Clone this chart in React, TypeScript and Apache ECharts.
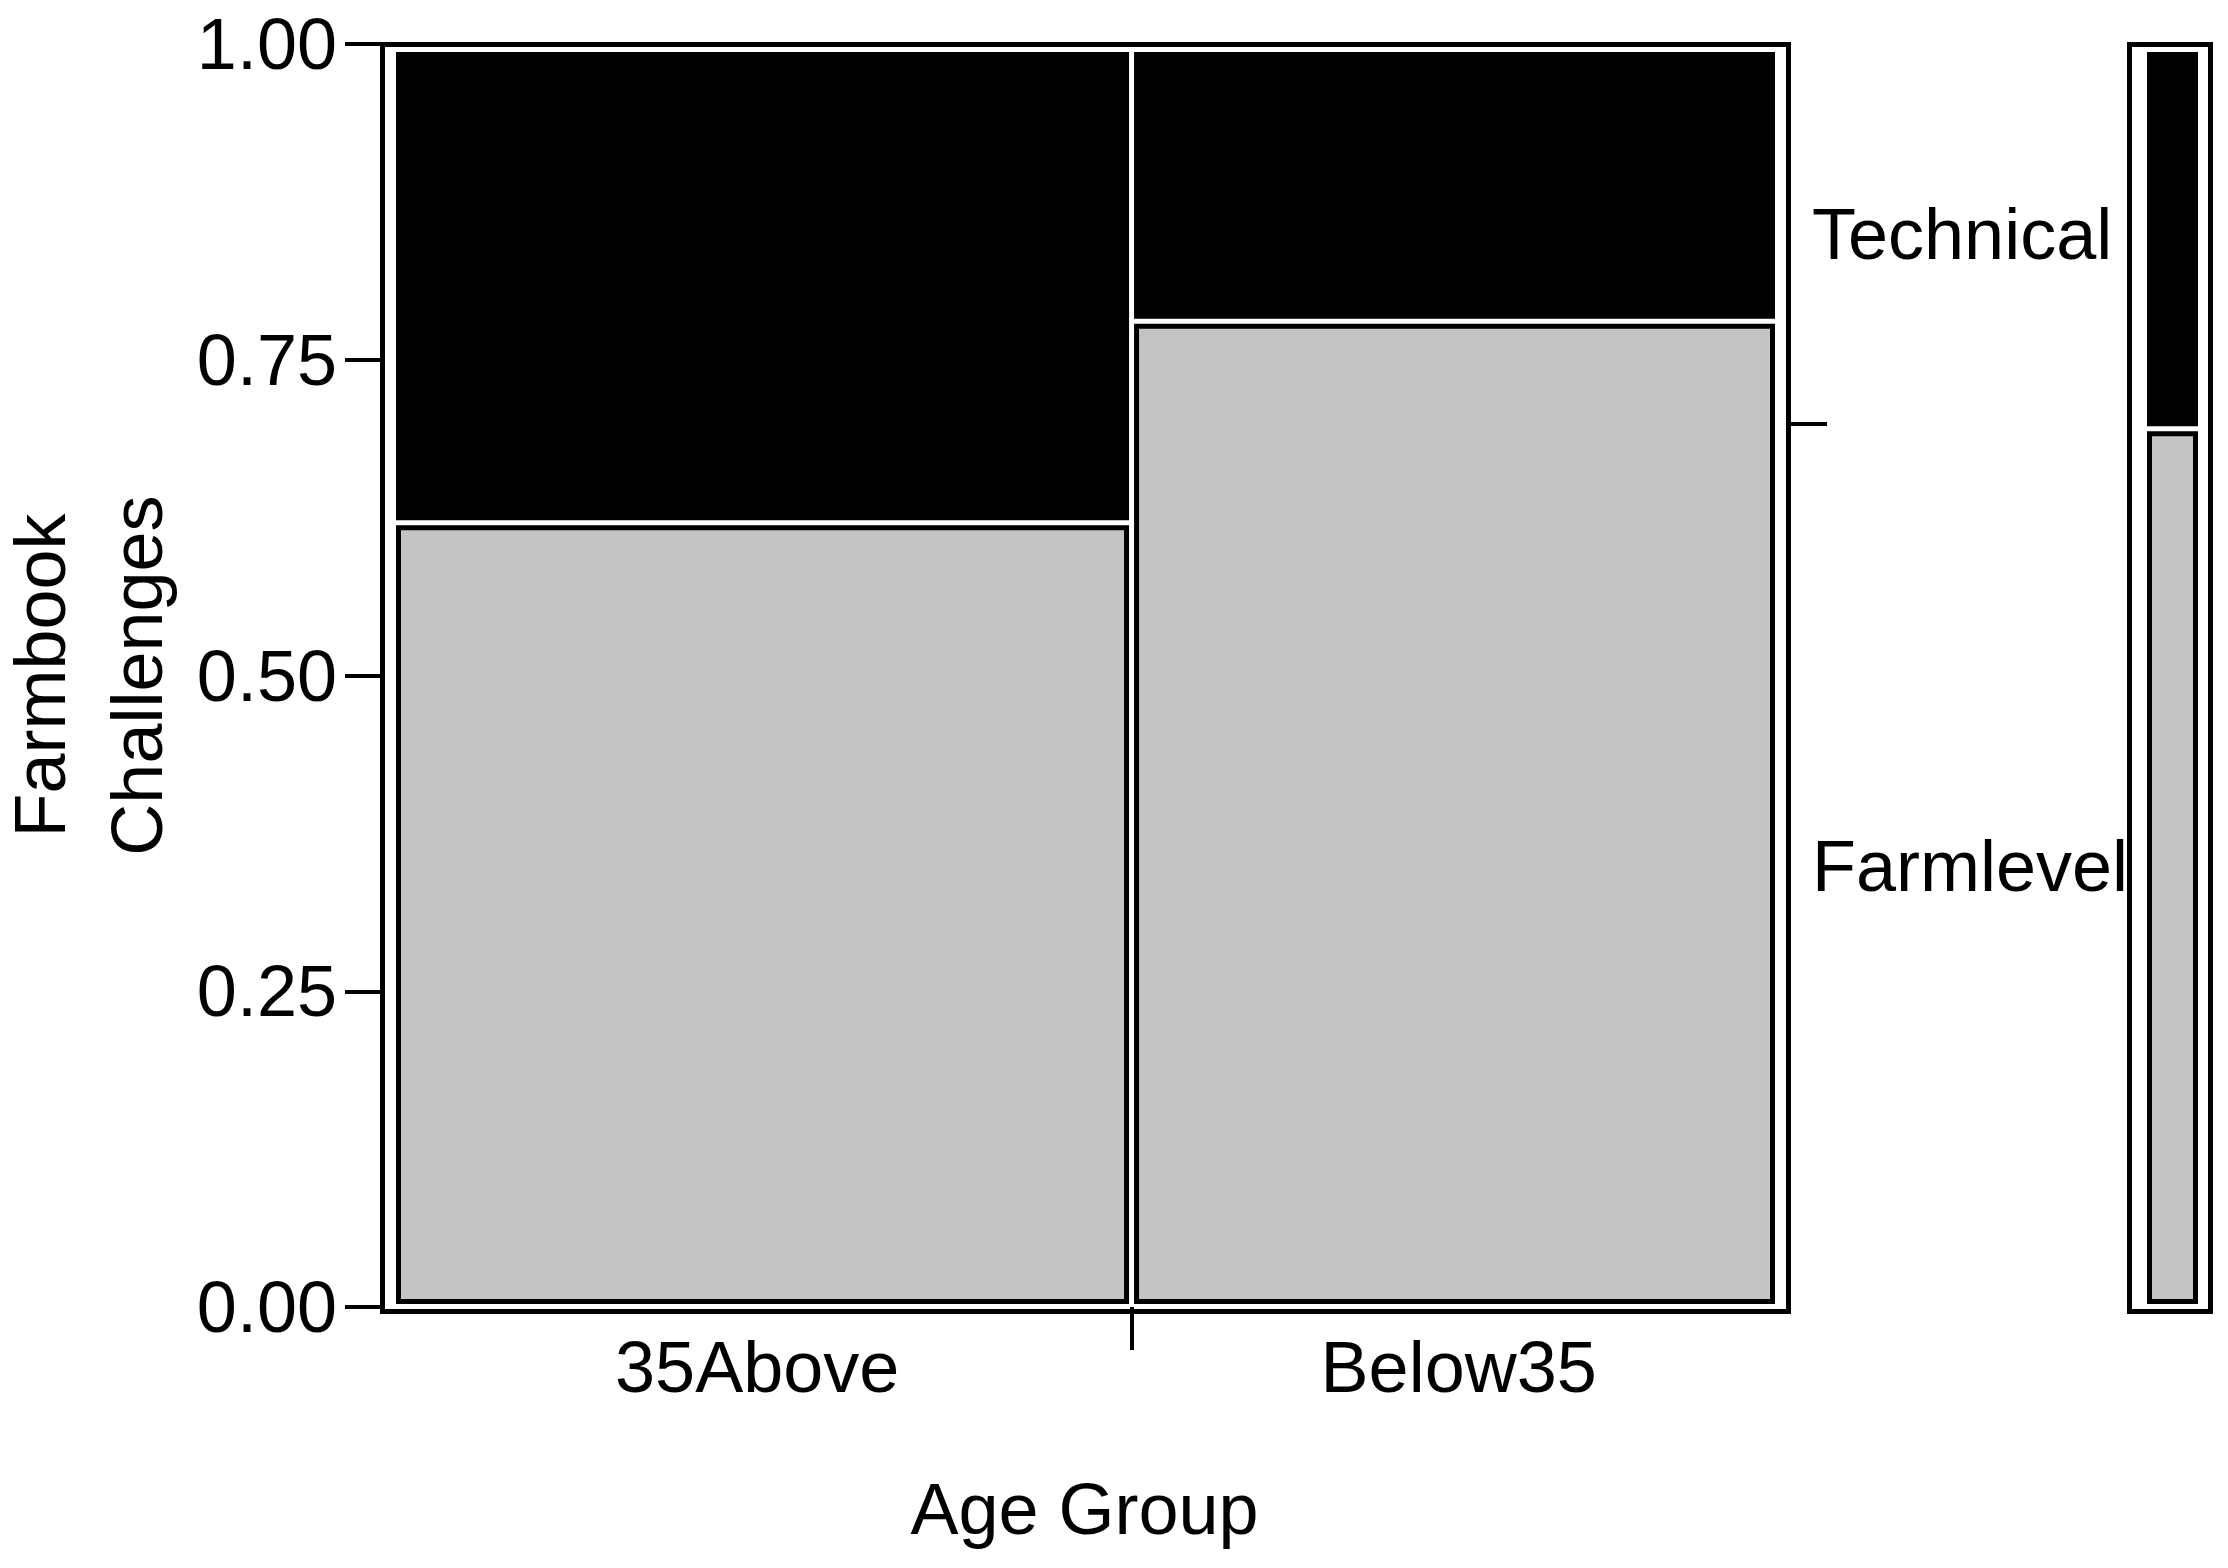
import React, { useEffect, useRef } from 'react';
import * as echarts from 'echarts';

// ---- data ----
const ageGroups = ['35Above', 'Below35'];
const ageShares = [0.5334, 0.4666]; // column widths (share of respondents)
const challengeLevels = ['Farmlevel', 'Technical'];
const farmlevelShareByAge = [0.624, 0.785]; // share of "Farmlevel" within each age group
const yTickValues = [0, 0.25, 0.5, 0.75, 1];

const FONT = "'Liberation Sans Narrow', 'Arial Narrow', 'Liberation Sans', Arial, sans-serif";

// build mosaic cells: [x0, x1, y0, y1, levelIndex]
const mosaicCells: number[][] = [];
let cum = 0;
ageGroups.forEach((_, i) => {
  const x0 = cum;
  const x1 = cum + ageShares[i];
  const f = farmlevelShareByAge[i];
  mosaicCells.push([x0, x1, 0, f, 0]);
  mosaicCells.push([x0, x1, f, 1, 1]);
  cum = x1;
});
const overallFarmlevel = ageShares.reduce((s, w, i) => s + w * farmlevelShareByAge[i], 0);
const marginalCells = [
  [0, 1, 0, overallFarmlevel, 0],
  [0, 1, overallFarmlevel, 1, 1],
];
const ageMidpoints: number[] = [];
{
  let c = 0;
  ageShares.forEach((w) => {
    ageMidpoints.push(c + w / 2);
    c += w;
  });
}
const levelMidpoints = [overallFarmlevel / 2, (overallFarmlevel + 1) / 2];

const levelColors = ['#c4c4c4', '#000000'];

type Inset = { l: number; r: number; t: number; b: number };

const makeCellRenderer = (inset: Inset) => (params: any, api: any) => {
  const x0v = api.value(0);
  const x1v = api.value(1);
  const y0v = api.value(2);
  const y1v = api.value(3);
  const kind = api.value(4);
  const pBL = api.coord([0, 0]);
  const pTR = api.coord([1, 1]);
  const L = pBL[0] + inset.l;
  const R = pTR[0] - inset.r;
  const T = pTR[1] + inset.t;
  const B = pBL[1] - inset.b;
  const px = (v: number) => L + v * (R - L);
  const py = (v: number) => B - v * (B - T);
  const half = 2.5;
  const xa = px(x0v) + (x0v > 1e-9 ? half : 0);
  const xb = px(x1v) - (x1v < 1 - 1e-9 ? half : 0);
  const ya = py(y1v) + (y1v < 1 - 1e-9 ? half : 0);
  const yb = py(y0v) - (y0v > 1e-9 ? half : 0);
  const sw = 5;
  return {
    type: 'rect',
    shape: { x: xa + sw / 2, y: ya + sw / 2, width: xb - xa - sw, height: yb - ya - sw },
    style: { fill: levelColors[kind], stroke: '#000', lineWidth: sw },
  };
};

const makeFrameRenderer = (off: Inset) => (params: any, api: any) => {
  const pBL = api.coord([0, 0]);
  const pTR = api.coord([1, 1]);
  const x0 = pBL[0] + off.l;
  const x1 = pTR[0] + off.r;
  const y0 = pTR[1] + off.t;
  const y1 = pBL[1] + off.b;
  return {
    type: 'rect',
    shape: { x: x0, y: y0, width: x1 - x0, height: y1 - y0 },
    style: { fill: 'none', stroke: '#000', lineWidth: 5 },
    silent: true,
  };
};

const textBase = { color: '#000', fontFamily: FONT, fontSize: 72 };

export default function App() {
  const ref = useRef<HTMLDivElement>(null);
  useEffect(() => {
    document.body.style.margin = '0';
    if (!ref.current) return;
    const chart = echarts.init(ref.current, undefined, { renderer: 'svg' });
    chart.setOption({
      animation: false,
      backgroundColor: '#fff',
      grid: [
        { left: 383, top: 44, width: 1403, height: 1263, containLabel: false, outerBoundsMode: 'none' },
        { left: 2130, top: 44, width: 80, height: 1263, containLabel: false, outerBoundsMode: 'none' },
      ],
      xAxis: [
        {
          type: 'value',
          gridIndex: 0,
          min: 0,
          max: 1,
          axisLine: { show: false },
          splitLine: { show: false },
          axisTick: {
            show: true,
            customValues: [ageShares[0]],
            length: 43,
            lineStyle: { color: '#000', width: 4 },
          },
          axisLabel: {
            ...textBase,
            customValues: ageMidpoints,
            margin: 24,
            formatter: (v: number) => {
              const i = ageMidpoints.findIndex((m) => Math.abs(m - v) < 1e-6);
              return i >= 0 ? ageGroups[i] : '';
            },
          },
          name: 'Age Group',
          nameLocation: 'middle',
          nameGap: 166,
          nameTextStyle: { ...textBase },
        },
        { type: 'value', gridIndex: 1, min: 0, max: 1, show: false },
      ],
      yAxis: [
        {
          type: 'value',
          gridIndex: 0,
          position: 'left',
          min: 0,
          max: 1,
          interval: 0.25,
          axisLine: { show: false },
          splitLine: { show: false },
          axisTick: {
            show: true,
            customValues: yTickValues,
            length: 38,
            lineStyle: { color: '#000', width: 4 },
          },
          axisLabel: {
            ...textBase,
            customValues: yTickValues,
            margin: 46,
            formatter: (v: number) => v.toFixed(2),
          },
          name: 'Farmbook\nChallenges',
          nameLocation: 'middle',
          nameRotate: 90,
          nameGap: 166,
          nameTextStyle: { ...textBase, lineHeight: 97 },
        },
        {
          type: 'value',
          gridIndex: 0,
          position: 'right',
          min: 0,
          max: 1,
          axisLine: { show: false },
          splitLine: { show: false },
          axisTick: {
            show: true,
            customValues: [overallFarmlevel],
            length: 41,
            lineStyle: { color: '#000', width: 4 },
          },
          axisLabel: {
            ...textBase,
            customValues: levelMidpoints,
            margin: 26,
            formatter: (v: number) => {
              const i = levelMidpoints.findIndex((m) => Math.abs(m - v) < 1e-6);
              return i >= 0 ? challengeLevels[i] : '';
            },
          },
        },
        { type: 'value', gridIndex: 1, min: 0, max: 1, show: false },
      ],
      series: [
        {
          type: 'custom',
          name: 'mosaic',
          xAxisIndex: 0,
          yAxisIndex: 0,
          encode: { x: [0, 1], y: [2, 3] },
          renderItem: makeCellRenderer({ l: 13, r: 11, t: 8, b: 3 }),
          data: mosaicCells,
        },
        {
          type: 'custom',
          name: 'frame',
          xAxisIndex: 0,
          yAxisIndex: 0,
          renderItem: makeFrameRenderer({ l: -0.5, r: 2.5, t: 0.5, b: 4.5 }),
          data: [[0, 0]],
        },
        {
          type: 'custom',
          name: 'marginal',
          xAxisIndex: 1,
          yAxisIndex: 2,
          encode: { x: [0, 1], y: [2, 3] },
          renderItem: makeCellRenderer({ l: 17, r: 12, t: 8, b: 3 }),
          data: marginalCells,
        },
        {
          type: 'custom',
          name: 'marginalFrame',
          xAxisIndex: 1,
          yAxisIndex: 2,
          renderItem: makeFrameRenderer({ l: -0.5, r: 0.5, t: 0.5, b: 4.5 }),
          data: [[0, 0]],
        },
      ],
    });
    return () => chart.dispose();
  }, []);
  return <div ref={ref} style={{ width: 2228, height: 1568 }} />;
}
